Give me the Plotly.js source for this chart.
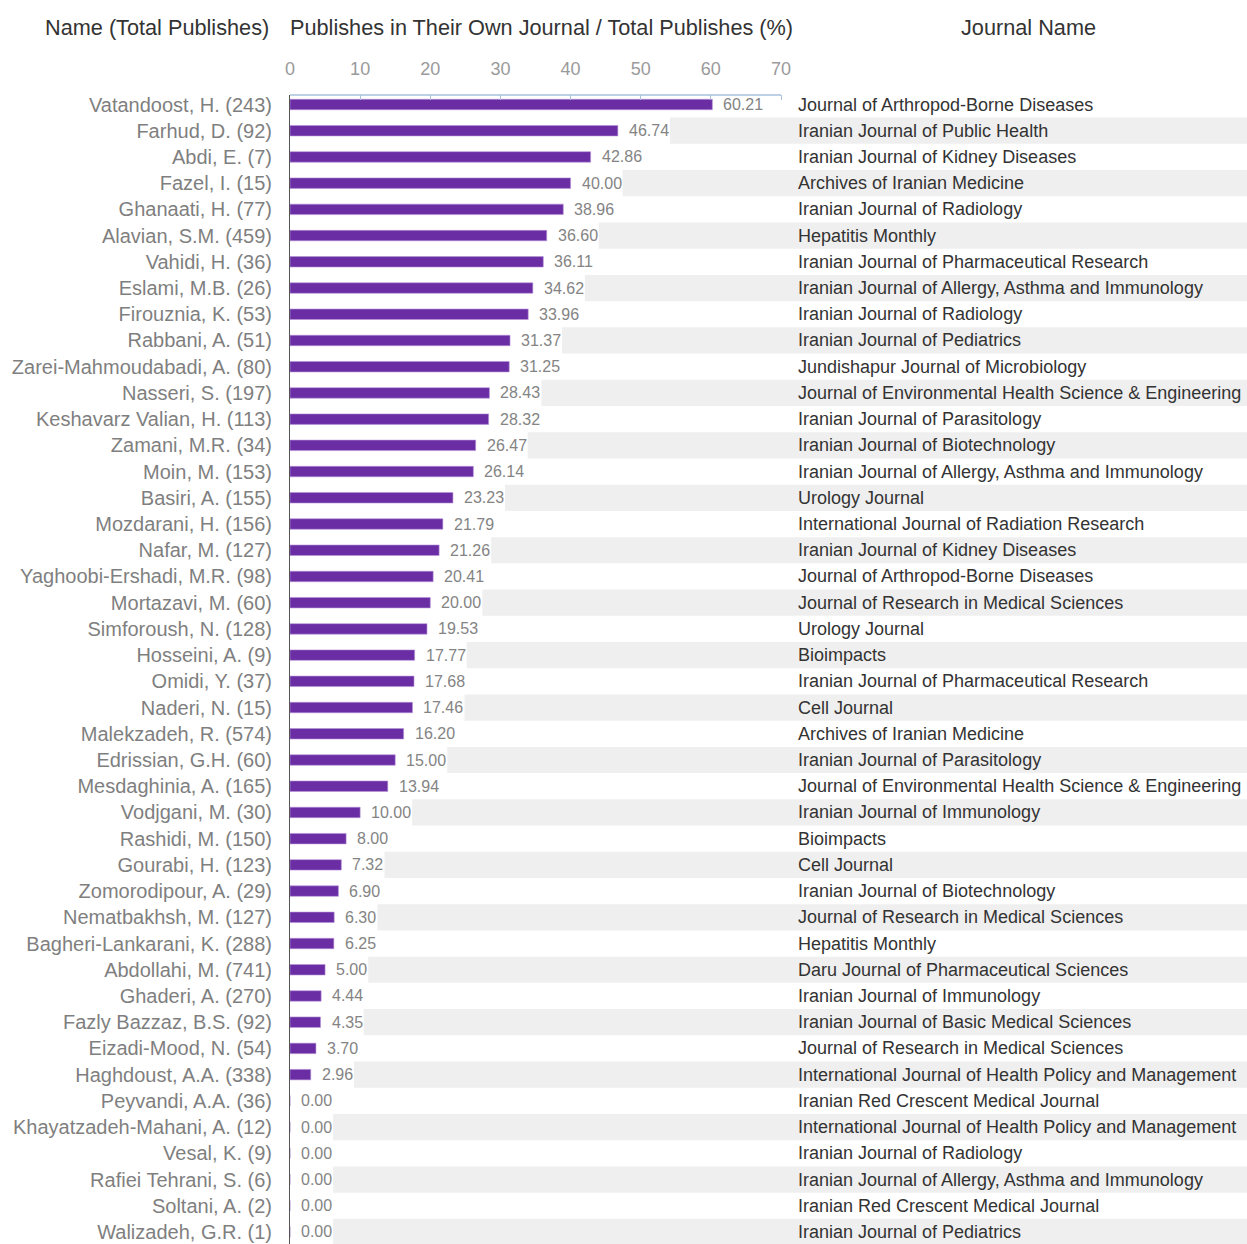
<!DOCTYPE html>
<html>
<head>
<meta charset="utf-8">
<script src="https://cdn.plot.ly/plotly-3.0.1.min.js"></script>
<style>
html,body{margin:0;padding:0;overflow:hidden;background:#fff;}
#chart{width:1247px;height:1244px;}
</style>
</head>
<body>
<div id="chart"></div>
<script>
const authors = ["Vatandoost, H.","Farhud, D.","Abdi, E.","Fazel, I.","Ghanaati, H.","Alavian, S.M.","Vahidi, H.","Eslami, M.B.","Firouznia, K.","Rabbani, A.","Zarei-Mahmoudabadi, A.","Nasseri, S.","Keshavarz Valian, H.","Zamani, M.R.","Moin, M.","Basiri, A.","Mozdarani, H.","Nafar, M.","Yaghoobi-Ershadi, M.R.","Mortazavi, M.","Simforoush, N.","Hosseini, A.","Omidi, Y.","Naderi, N.","Malekzadeh, R.","Edrissian, G.H.","Mesdaghinia, A.","Vodjgani, M.","Rashidi, M.","Gourabi, H.","Zomorodipour, A.","Nematbakhsh, M.","Bagheri-Lankarani, K.","Abdollahi, M.","Ghaderi, A.","Fazly Bazzaz, B.S.","Eizadi-Mood, N.","Haghdoust, A.A.","Peyvandi, A.A.","Khayatzadeh-Mahani, A.","Vesal, K.","Rafiei Tehrani, S.","Soltani, A.","Walizadeh, G.R."];
const totalPublishes = [243,92,7,15,77,459,36,26,53,51,80,197,113,34,153,155,156,127,98,60,128,9,37,15,574,60,165,30,150,123,29,127,288,741,270,92,54,338,36,12,9,6,2,1];
const ownJournalPercent = [60.21,46.74,42.86,40.00,38.96,36.60,36.11,34.62,33.96,31.37,31.25,28.43,28.32,26.47,26.14,23.23,21.79,21.26,20.41,20.00,19.53,17.77,17.68,17.46,16.20,15.00,13.94,10.00,8.00,7.32,6.90,6.30,6.25,5.00,4.44,4.35,3.70,2.96,0.00,0.00,0.00,0.00,0.00,0.00];
const journals = ["Journal of Arthropod-Borne Diseases","Iranian Journal of Public Health","Iranian Journal of Kidney Diseases","Archives of Iranian Medicine","Iranian Journal of Radiology","Hepatitis Monthly","Iranian Journal of Pharmaceutical Research","Iranian Journal of Allergy, Asthma and Immunology","Iranian Journal of Radiology","Iranian Journal of Pediatrics","Jundishapur Journal of Microbiology","Journal of Environmental Health Science & Engineering","Iranian Journal of Parasitology","Iranian Journal of Biotechnology","Iranian Journal of Allergy, Asthma and Immunology","Urology Journal","International Journal of Radiation Research","Iranian Journal of Kidney Diseases","Journal of Arthropod-Borne Diseases","Journal of Research in Medical Sciences","Urology Journal","Bioimpacts","Iranian Journal of Pharmaceutical Research","Cell Journal","Archives of Iranian Medicine","Iranian Journal of Parasitology","Journal of Environmental Health Science & Engineering","Iranian Journal of Immunology","Bioimpacts","Cell Journal","Iranian Journal of Biotechnology","Journal of Research in Medical Sciences","Hepatitis Monthly","Daru Journal of Pharmaceutical Sciences","Iranian Journal of Immunology","Iranian Journal of Basic Medical Sciences","Journal of Research in Medical Sciences","International Journal of Health Policy and Management","Iranian Red Crescent Medical Journal","International Journal of Health Policy and Management","Iranian Journal of Radiology","Iranian Journal of Allergy, Asthma and Immunology","Iranian Red Crescent Medical Journal","Iranian Journal of Pediatrics"];
const xTickVals = [0,10,20,30,40,50,60,70];
const headers = ["Name (Total Publishes)","Publishes in Their Own Journal / Total Publishes (%)","Journal Name"];

const FONT = "Arial, 'Liberation Sans', sans-serif";
const W = 1247, H = 1244, L = 290, T = 95;
const pxPerUnit = (781 - 290) / 70;
const xMax = (W - L) / pxPerUnit;
const plotH = H - T;

const labels = authors.map((a, i) => `${a} (${totalPublishes[i]})`);
const valueText = ownJournalPercent.map(v => v.toFixed(2));

const shapes = [];
labels.forEach((lab, i) => {
  if (i % 2 === 1) {
    const txt = valueText[i];
    const w = 16 * (0.556 * (txt.length - 1) + 0.278);
    shapes.push({
      type: 'rect', layer: 'below', xref: 'x', yref: 'y',
      x0: ownJournalPercent[i] + (12 + w) / pxPerUnit, x1: xMax,
      y0: i - 0.5, y1: i + 0.5,
      fillcolor: '#efefef', line: {width: 0}
    });
  }
});
shapes.push({
  type: 'line', xref: 'x', yref: 'paper', x0: 0, x1: 70, y0: 1, y1: 1,
  line: {color: '#a9c1dc', width: 1.5}
});

const annotations = [];
labels.forEach((lab, i) => {
  annotations.push({
    xref: 'x', yref: 'y', x: ownJournalPercent[i], y: lab,
    text: valueText[i], showarrow: false, xanchor: 'left', yanchor: 'middle',
    xshift: 9, font: {family: FONT, size: 16, color: '#848484'}
  });
  annotations.push({
    xref: 'paper', yref: 'y', x: (796 - L) / (W - L), y: lab,
    text: journals[i], showarrow: false, xanchor: 'left', yanchor: 'middle',
    font: {family: FONT, size: 18, color: '#333333'}
  });
});
const headerX = [157, 541, 1028];
headers.forEach((h, k) => {
  annotations.push({
    xref: 'paper', yref: 'paper', x: (headerX[k] - L) / (W - L), y: (H - 27) / plotH,
    text: h, showarrow: false, xanchor: 'center', yanchor: 'middle',
    font: {family: FONT, size: 21.7, color: '#333333'}
  });
});

const trace = {
  type: 'bar', orientation: 'h',
  x: ownJournalPercent, y: labels,
  width: 0.4,
  marker: {color: '#6a2da4', line: {color: '#b793d8', width: 0.6}},
  hoverinfo: 'none'
};

const rowPx = 26.22;
const r0 = -(104.5 - T) / rowPx;
const rBottom = r0 + plotH / rowPx;

const layout = {
  width: W, height: H,
  margin: {l: L, r: 0, t: T, b: 0, pad: 0},
  paper_bgcolor: '#ffffff', plot_bgcolor: 'rgba(0,0,0,0)',
  showlegend: false,
  font: {family: FONT},
  xaxis: {
    side: 'top', range: [0, xMax], tickvals: xTickVals, ticktext: xTickVals.map(String),
    showgrid: false, zeroline: false, showline: false,
    ticks: 'inside', ticklen: 5, tickcolor: '#a9c1dc', tickwidth: 1,
    ticklabelstandoff: 15,
    tickfont: {family: FONT, size: 18, color: '#9a9a9a'},
    fixedrange: true
  },
  yaxis: {
    type: 'category', categoryorder: 'array', categoryarray: labels,
    range: [rBottom, r0],
    showgrid: false, zeroline: false, showline: true, linecolor: '#555555', linewidth: 1,
    ticks: '', ticklabelstandoff: 13,
    tickfont: {family: FONT, size: 20, color: '#7f7f7f'},
    fixedrange: true
  },
  shapes: shapes,
  annotations: annotations
};

Plotly.newPlot('chart', [trace], layout, {displayModeBar: false, staticPlot: true});
</script>
</body>
</html>
